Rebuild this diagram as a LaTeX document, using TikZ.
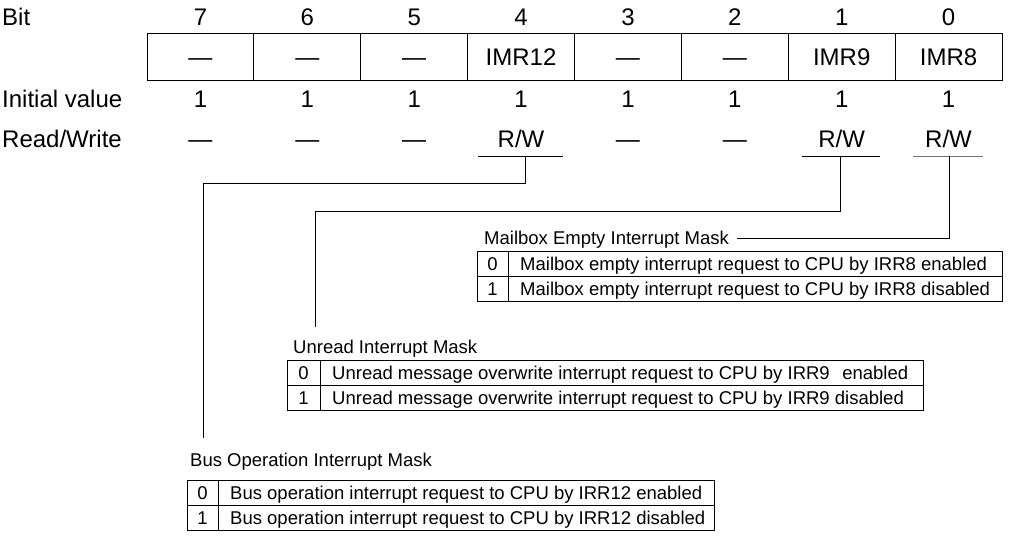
\documentclass[tikz,border=0pt]{standalone}
\usepackage{fontspec}
\setmainfont{Liberation Sans}
\begin{document}
\begin{tikzpicture}[x=1pt,y=-1pt,
  big/.style={font=\fontsize{24}{28}\selectfont, inner sep=0pt},
  small/.style={font=\fontsize{18.5}{22}\selectfont, inner sep=0pt},
  regcell/.style={draw=black, line width=0.9pt, minimum width=106.875pt, minimum height=47pt, inner sep=0pt},
  tabline/.style={draw=black, line width=0.9pt},
  conn/.style={draw=black, line width=0.8pt},
  uline/.style={draw=black, line width=0.8pt},
]
\useasboundingbox (0,0) rectangle (1009,542);

% row labels
\node[big, anchor=base west] (lbit) at (2,25.5) {Bit};
\node[big, anchor=base west] (linit) at (2,107) {Initial value};
\node[big, anchor=base west] (lrw) at (2,147) {Read/Write};

% register
\foreach \t/\b/\rw [count=\k from 0] in {—/7/—, —/6/—, —/5/—, IMR12/4/R\slash W, —/3/—, —/2/—, IMR9/1/R\slash W, IMR8/0/R\slash W}{
  \pgfmathsetmacro{\cx}{147+(\k+0.5)*106.875}
  \node[regcell] (reg\b) at (\cx,56.5) {};
  \node[big, anchor=base] (txt\b) at (\cx,65) {\t};
  \node[big, anchor=base] (bit\b) at (\cx,25.5) {\b};
  \node[big, anchor=base] (init\b) at (\cx,107) {1};
  \node[big, anchor=base] (rw\b) at (\cx,147) {\rw};
}

% underlines
\coordinate (u4a) at (478,156); \coordinate (u4b) at (563,156);
\coordinate (u1a) at (802,156); \coordinate (u1b) at (880,156);
\coordinate (u0a) at (913,156); \coordinate (u0b) at (983,156);
\draw[uline] (u4a) -- (u4b);
\draw[uline] (u1a) -- (u1b);
\draw[uline, draw=black!55] (u0a) -- (u0b);

% tap points
\coordinate (t4) at (525,156);
\coordinate (t1) at (840,156);
\coordinate (t0) at (949,156);

% Mailbox table
\node[small, anchor=base west] (mbl) at (484,244.6) {Mailbox Empty Interrupt Mask};
\draw[tabline] (477,251) rectangle (1002,301);
\draw[tabline] (477,276) -- (1002,276);
\draw[tabline] (508,251) -- (508,301);
\node[small, anchor=base] (mb0n) at (492.5,270.2) {0};
\node[small, anchor=base] (mb1n) at (492.5,295.2) {1};
\node[small, anchor=base west] (mb0t) at (520,270.2) {Mailbox empty interrupt request to CPU by IRR8 enabled};
\node[small, anchor=base west] (mb1t) at (520,295.2) {Mailbox empty interrupt request to CPU by IRR8 disabled};

% Unread table
\node[small, anchor=base west] (unl) at (293,353.6) {Unread Interrupt Mask};
\draw[tabline] (287,360) rectangle (923,410);
\draw[tabline] (287,385) -- (923,385);
\draw[tabline] (320,360) -- (320,410);
\node[small, anchor=base] (un0n) at (303.5,379.2) {0};
\node[small, anchor=base] (un1n) at (303.5,404.2) {1};
\node[small, anchor=base west] (un0t) at (332,379.2) {Unread message overwrite interrupt request to CPU by IRR9\hspace{0.4em} enabled};
\node[small, anchor=base west] (un1t) at (332,404.2) {Unread message overwrite interrupt request to CPU by IRR9 disabled};

% Bus table
\node[small, anchor=base west] (bul) at (190,466.6) {Bus Operation Interrupt Mask};
\draw[tabline] (187,480) rectangle (714,530);
\draw[tabline] (187,505) -- (714,505);
\draw[tabline] (218,480) -- (218,530);
\node[small, anchor=base] (bu0n) at (202.5,499.2) {0};
\node[small, anchor=base] (bu1n) at (202.5,524.2) {1};
\node[small, anchor=base west] (bu0t) at (230,499.2) {Bus operation interrupt request to CPU by IRR12 enabled};
\node[small, anchor=base west] (bu1t) at (230,524.2) {Bus operation interrupt request to CPU by IRR12 disabled};

% connectors
\coordinate (c4) at (203,183);
\coordinate (e4) at (203,438);
\draw[conn] (t4) |- (c4) -- (e4);
\coordinate (c1) at (315,211);
\coordinate (e1) at (315,327);
\draw[conn] (t1) |- (c1) -- (e1);
\coordinate (e0) at (737,238);
\draw[conn] (t0) |- (e0);
\end{tikzpicture}
\end{document}
